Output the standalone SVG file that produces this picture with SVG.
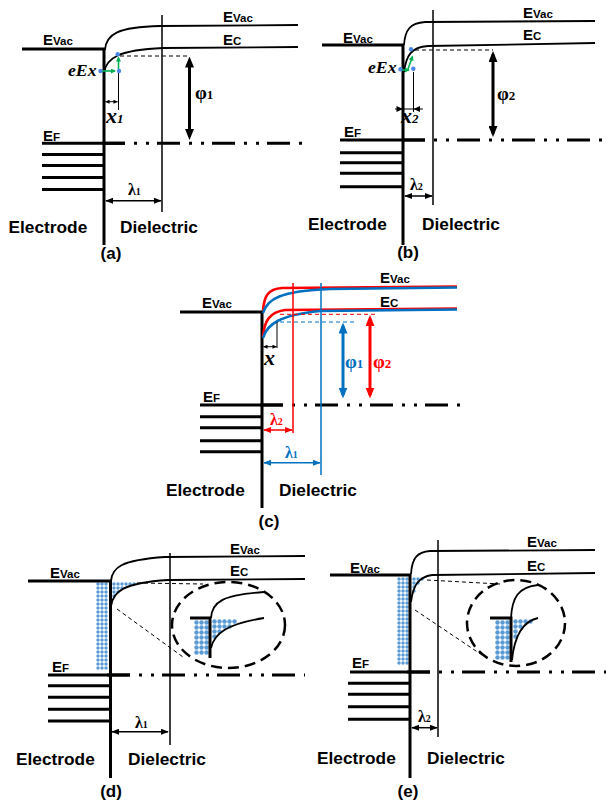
<svg xmlns="http://www.w3.org/2000/svg" width="606" height="806" viewBox="0 0 606 806">
<style>
.thick{fill:none;stroke:#000;stroke-width:3}
.curve{fill:none;stroke:#000;stroke-width:1.8}
.thin{fill:none;stroke:#000;stroke-width:1.5}
.hair{fill:none;stroke:#000;stroke-width:1}
.ef{fill:none;stroke:#000;stroke-width:3;stroke-dasharray:23 9 3 9 3 8}
.dash{fill:none;stroke:#000;stroke-width:1;stroke-dasharray:4 3}
.ell{fill:none;stroke:#000;stroke-width:2.5;stroke-dasharray:11 6}
.red{stroke:#FF0000}
.blue{stroke:#0070C0}
.ccurve{fill:none;stroke-width:2.6}
.lbl{font-family:"Liberation Sans",Arial,sans-serif;font-weight:bold;font-size:15px;fill:#000}
.sub{font-size:11.5px}
.word{font-family:"Liberation Sans",Arial,sans-serif;font-weight:bold;font-size:17.3px;fill:#000}
.cap{font-family:"Liberation Sans",Arial,sans-serif;font-weight:bold;font-size:17px;fill:#000;text-anchor:middle}
.gk{font-family:"Liberation Serif","Times New Roman",serif;font-weight:bold;font-size:19px}
.gks{font-size:13px}
.lam{font-family:"Liberation Serif","Times New Roman",serif;font-weight:bold;font-size:16px}
.lams{font-size:10px}
.xi{font-family:"Liberation Serif","Times New Roman",serif;font-style:italic;font-weight:bold;font-size:22px}
.xis{font-size:13px}
.eex{font-family:"Liberation Serif","Times New Roman",serif;font-style:italic;font-weight:bold;font-size:16px}
.bd{fill:#4A86E8}
.gr{fill:none;stroke:#00B050;stroke-width:1.6}
</style>
<defs>
<marker id="mk" viewBox="0 0 10 10" refX="9" refY="5" markerWidth="8" markerHeight="6" markerUnits="userSpaceOnUse" orient="auto-start-reverse" preserveAspectRatio="none"><path d="M0,0L10,5L0,10z" fill="#000"/></marker>
<marker id="mkR" viewBox="0 0 10 10" refX="9" refY="5" markerWidth="8" markerHeight="6" markerUnits="userSpaceOnUse" orient="auto-start-reverse" preserveAspectRatio="none"><path d="M0,0L10,5L0,10z" fill="#FF0000"/></marker>
<marker id="mkB" viewBox="0 0 10 10" refX="9" refY="5" markerWidth="8" markerHeight="6" markerUnits="userSpaceOnUse" orient="auto-start-reverse" preserveAspectRatio="none"><path d="M0,0L10,5L0,10z" fill="#0070C0"/></marker>
<marker id="mkT" viewBox="0 0 10 10" refX="7" refY="5" markerWidth="11" markerHeight="9" markerUnits="userSpaceOnUse" orient="auto-start-reverse" preserveAspectRatio="none"><path d="M0,0L10,5L0,10z" fill="#000"/></marker>
<marker id="mkRT" viewBox="0 0 10 10" refX="7" refY="5" markerWidth="11" markerHeight="9" markerUnits="userSpaceOnUse" orient="auto-start-reverse" preserveAspectRatio="none"><path d="M0,0L10,5L0,10z" fill="#FF0000"/></marker>
<marker id="mkBT" viewBox="0 0 10 10" refX="7" refY="5" markerWidth="11" markerHeight="9" markerUnits="userSpaceOnUse" orient="auto-start-reverse" preserveAspectRatio="none"><path d="M0,0L10,5L0,10z" fill="#0070C0"/></marker>
<marker id="mkS" viewBox="0 0 10 10" refX="9" refY="5" markerWidth="4.5" markerHeight="4" markerUnits="userSpaceOnUse" orient="auto-start-reverse" preserveAspectRatio="none"><path d="M0,0L10,5L0,10z" fill="#000"/></marker>
<marker id="mkG" viewBox="0 0 10 10" refX="8" refY="5" markerWidth="5" markerHeight="5" markerUnits="userSpaceOnUse" orient="auto" preserveAspectRatio="none"><path d="M0,0L10,5L0,10z" fill="#00B050"/></marker>
<pattern id="dotS" width="4" height="4" patternUnits="userSpaceOnUse"><circle cx="2" cy="2" r="1.75" fill="#5B9BD5"/></pattern>
<pattern id="dotL" width="5" height="5" patternUnits="userSpaceOnUse"><circle cx="2.5" cy="2.5" r="2.25" fill="#5B9BD5"/></pattern>
</defs>
<rect width="606" height="806" fill="#fff"/>

<!-- Panel (a) -->
<g id="panel-a">
  <g id="a-bands">
    <path class="thick" d="M22,49H104V245"/>
    <path class="thick" d="M42,143.3H125M42,154.5H104M42,165.5H104M42,177.5H104M42,189.5H104"/>
    <path class="ef" d="M102,143.3H303"/>
    <path class="curve" d="M105,50C106,34 118,27 160,26L298,25"/>
    <path class="curve" d="M104,72C107,58 118,50 163,48L298,47"/>
    <path class="thin" d="M162,15V212"/>
    <path class="dash" d="M120,56H188"/>
    <path class="hair" d="M118.5,73V110"/>
  </g>
  <g id="a-connectors">
    <path class="thick" d="M189.5,59.8V136.7" marker-start="url(#mkT)" marker-end="url(#mkT)"/>
    <path class="hair" d="M105.5,101.7H117.5" marker-start="url(#mkS)" marker-end="url(#mkS)"/>
    <path class="thin" d="M106,200.7H161" marker-start="url(#mk)" marker-end="url(#mk)"/>
    <circle class="bd" cx="117.7" cy="54.3" r="2.2"/>
    <circle class="bd" cx="100.5" cy="71" r="2.2"/>
    <circle class="bd" cx="119" cy="71" r="2.2"/>
    <path class="gr" d="M102.5,71H115" marker-end="url(#mkG)"/>
    <path class="gr" d="M118.5,69V57.5" marker-end="url(#mkG)"/>
  </g>
  <g id="a-labels">
    <text class="lbl" x="43" y="45">E<tspan class="sub">Vac</tspan></text>
    <text class="lbl" x="223" y="22">E<tspan class="sub">Vac</tspan></text>
    <text class="lbl" x="223" y="45">E<tspan class="sub">C</tspan></text>
    <text class="lbl" x="43" y="140.5">E<tspan class="sub">F</tspan></text>
    <text class="eex" x="68" y="76" textLength="28.5" lengthAdjust="spacingAndGlyphs">eEx</text>
    <text class="gk" x="195" y="99">φ<tspan class="gks">1</tspan></text>
    <text class="xi" x="106" y="123">x<tspan class="xis">1</tspan></text>
    <text class="lam" x="128" y="195">λ<tspan class="lams">1</tspan></text>
    <text class="word" x="8.5" y="233">Electrode</text>
    <text class="word" x="120" y="233">Dielectric</text>
    <text class="cap" x="111" y="259">(a)</text>
  </g>
</g>

<!-- Panel (b) -->
<g id="panel-b">
  <g id="b-bands">
    <path class="thick" d="M322,45H403V245"/>
    <path class="thick" d="M340,140H425M340,152.7H403M340,162.7H403M340,173.3H403M340,186.7H403"/>
    <path class="ef" d="M402,140H606"/>
    <path class="curve" d="M404,45C405,30 410,23 425,22L595,21"/>
    <path class="curve" d="M404,72C406,56 411,47 428,46L595,43"/>
    <path class="thin" d="M433,10V205"/>
    <path class="dash" d="M415,50H493"/>
    <path class="hair" d="M413.5,72V112"/>
  </g>
  <g id="b-connectors">
    <path class="thick" d="M493,54.3V133.7" marker-start="url(#mkT)" marker-end="url(#mkT)"/>
    <path class="hair" d="M395,109H423"/>
    <path d="M403,109L396.5,106L396.5,112Z M413.5,109L420,106L420,112Z" fill="#000"/>
    <path class="thin" d="M405,196H432" marker-start="url(#mk)" marker-end="url(#mk)"/>
    <circle class="bd" cx="411" cy="49.3" r="2.2"/>
    <circle class="bd" cx="400.5" cy="69.3" r="2.2"/>
    <circle class="bd" cx="413.3" cy="68.8" r="2.2"/>
    <path class="gr" d="M402,70H409" marker-end="url(#mkG)"/>
    <path class="gr" d="M408,69L412.5,56.5" marker-end="url(#mkG)"/>
  </g>
  <g id="b-labels">
    <text class="lbl" x="343" y="42.7">E<tspan class="sub">Vac</tspan></text>
    <text class="lbl" x="523" y="18">E<tspan class="sub">Vac</tspan></text>
    <text class="lbl" x="523" y="39.5">E<tspan class="sub">C</tspan></text>
    <text class="lbl" x="344" y="137">E<tspan class="sub">F</tspan></text>
    <text class="eex" x="368" y="72.7" textLength="28.5" lengthAdjust="spacingAndGlyphs">eEx</text>
    <text class="gk" x="497" y="100">φ<tspan class="gks">2</tspan></text>
    <text class="xi" x="401" y="123">x<tspan class="xis">2</tspan></text>
    <text class="lam" x="410" y="190">λ<tspan class="lams">2</tspan></text>
    <text class="word" x="308" y="230">Electrode</text>
    <text class="word" x="422" y="230">Dielectric</text>
    <text class="cap" x="408" y="258">(b)</text>
  </g>
</g>

<!-- Panel (c) -->
<g id="panel-c">
  <g id="c-bands">
    <path class="thick" d="M180,312H262V508"/>
    <path class="thick" d="M200,405H283M200,416.7H262M200,427.7H262M200,440.7H262M200,451.7H262"/>
    <path class="ef" d="M260,405H462"/>
    <path class="ccurve red" d="M263,311C264,296 268,289 282,288L457,286.5"/>
    <path class="ccurve red" d="M263,337C264,322 269,312 285,310L457,308.5"/>
    <path class="ccurve blue" d="M263,313C267,299 280,291 330,289L457,287.5"/>
    <path class="ccurve blue" d="M263,338C267,324 280,315 320,311L457,309.5"/>
    <path class="thin red" d="M293,283V433"/>
    <path class="thin blue" d="M321,283V475"/>
    <path class="dash red" d="M280,314.3H377"/>
    <path class="dash blue" d="M280,322H355"/>
    <path class="hair" d="M277,322V348"/>
  </g>
  <g id="c-connectors">
    <path class="thick blue" d="M343,325.8V395.2" marker-start="url(#mkBT)" marker-end="url(#mkBT)"/>
    <path class="thick red" d="M370,318.3V395.2" marker-start="url(#mkRT)" marker-end="url(#mkRT)"/>
    <path class="hair" d="M263.5,346.7H276.5" marker-start="url(#mkS)" marker-end="url(#mkS)"/>
    <path class="thin red" d="M264,430H292" marker-start="url(#mkR)" marker-end="url(#mkR)"/>
    <path class="thin blue" d="M264,462.7H320" marker-start="url(#mkB)" marker-end="url(#mkB)"/>
  </g>
  <g id="c-labels">
    <text class="lbl" x="202" y="308.3">E<tspan class="sub">Vac</tspan></text>
    <text class="lbl" x="380" y="283.3">E<tspan class="sub">Vac</tspan></text>
    <text class="lbl" x="380" y="306.7">E<tspan class="sub">C</tspan></text>
    <text class="lbl" x="203" y="401.7">E<tspan class="sub">F</tspan></text>
    <text class="gk" x="345" y="368" fill="#0070C0">φ<tspan class="gks">1</tspan></text>
    <text class="gk" x="373" y="368" fill="#FF0000">φ<tspan class="gks">2</tspan></text>
    <text class="xi" x="264" y="365">x</text>
    <text class="lam" x="270" y="425" fill="#FF0000">λ<tspan class="lams">2</tspan></text>
    <text class="lam" x="285" y="458" fill="#0070C0">λ<tspan class="lams">1</tspan></text>
    <text class="word" x="166" y="496">Electrode</text>
    <text class="word" x="279" y="496">Dielectric</text>
    <text class="cap" x="269" y="527">(c)</text>
  </g>
</g>

<!-- Panel (d) -->
<g id="panel-d">
  <g id="d-charges">
    <g transform="translate(96,582)"><rect width="12" height="88" fill="url(#dotS)"/></g>
    <g transform="translate(112,582)"><path d="M0,0H24V4H12V8H8V12H4V16H0Z" fill="url(#dotS)"/></g>
    <g transform="translate(194,620)"><rect width="15" height="35" fill="url(#dotL)"/></g>
    <g transform="translate(212,619)"><path d="M0,0H25V5H20V10H10V15H5V20H0Z" fill="url(#dotL)"/></g>
  </g>
  <g id="d-bands">
    <path class="thick" d="M28,581H110.5V778"/>
    <path class="thick" d="M48,675H130M48,685.7H110.5M48,697.3H110.5M48,709.3H110.5M48,721H110.5"/>
    <path class="ef" d="M107,675H305"/>
    <path class="curve" d="M111,581C112,568 120,560 165,557L305,556"/>
    <path class="curve" d="M111,606C113,592 122,583 168,580L305,579"/>
    <path class="thin" d="M170,553V745"/>
  </g>
  <g id="d-zoom">
    <path class="dash" d="M137,583L203,584M117,609L183,657"/>
    <ellipse class="ell" cx="228.5" cy="625" rx="56.5" ry="43"/>
    <path class="thick" d="M190,618H210V658"/>
    <path class="curve" d="M211,618C212,602 222,595 264,592"/>
    <path class="curve" d="M211,648C214,634 226,624 264,618"/>
  </g>
  <g id="d-connectors">
    <path class="thin" d="M112,731.7H168" marker-start="url(#mk)" marker-end="url(#mk)"/>
  </g>
  <g id="d-labels">
    <text class="lbl" x="50" y="578">E<tspan class="sub">Vac</tspan></text>
    <text class="lbl" x="230" y="554">E<tspan class="sub">Vac</tspan></text>
    <text class="lbl" x="230" y="576">E<tspan class="sub">C</tspan></text>
    <text class="lbl" x="52" y="671.7">E<tspan class="sub">F</tspan></text>
    <text class="lam" x="135" y="728">λ<tspan class="lams">1</tspan></text>
    <text class="word" x="16" y="765">Electrode</text>
    <text class="word" x="128" y="765">Dielectric</text>
    <text class="cap" x="111" y="797">(d)</text>
  </g>
</g>

<!-- Panel (e) -->
<g id="panel-e">
  <g id="e-charges">
    <g transform="translate(397,577)"><rect width="12" height="88" fill="url(#dotS)"/></g>
    <g transform="translate(412,577)"><path d="M0,0H12V4H8V8H4V16H0Z" fill="url(#dotS)"/></g>
    <g transform="translate(495,620)"><rect width="15" height="40" fill="url(#dotL)"/></g>
    <g transform="translate(513,619)"><path d="M0,0H20V5H10V10H5V20H0Z" fill="url(#dotL)"/></g>
  </g>
  <g id="e-bands">
    <path class="thick" d="M330,575H410V778"/>
    <path class="thick" d="M350,672H430M348,683.3H410M348,694.3H410M348,706.7H410M348,719.3H410"/>
    <path class="ef" d="M407,672H606"/>
    <path class="curve" d="M411,574C412,558 417,552 430,551L595,550"/>
    <path class="curve" d="M411,602C413,586 418,577 432,575L595,573"/>
    <path class="thin" d="M438,540V737"/>
  </g>
  <g id="e-zoom">
    <path class="dash" d="M427,580L500,584M415,610L482,655"/>
    <ellipse class="ell" cx="516" cy="623" rx="49" ry="43"/>
    <path class="thick" d="M490,618H511V662"/>
    <path class="curve" d="M511,618C512,598 518,587 538,585"/>
    <path class="curve" d="M512,660C514,640 520,622 538,618"/>
  </g>
  <g id="e-connectors">
    <path class="thin" d="M412,727.7H437" marker-start="url(#mk)" marker-end="url(#mk)"/>
  </g>
  <g id="e-labels">
    <text class="lbl" x="350" y="572.7">E<tspan class="sub">Vac</tspan></text>
    <text class="lbl" x="527" y="546.7">E<tspan class="sub">Vac</tspan></text>
    <text class="lbl" x="527" y="570.7">E<tspan class="sub">C</tspan></text>
    <text class="lbl" x="352" y="668.3">E<tspan class="sub">F</tspan></text>
    <text class="lam" x="418" y="722">λ<tspan class="lams">2</tspan></text>
    <text class="word" x="317" y="764">Electrode</text>
    <text class="word" x="427" y="764">Dielectric</text>
    <text class="cap" x="408" y="797">(e)</text>
  </g>
</g>
</svg>
